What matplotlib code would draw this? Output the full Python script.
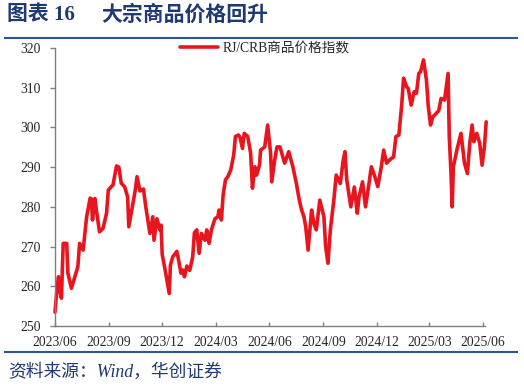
import matplotlib
matplotlib.use('Agg')
import matplotlib.pyplot as plt
import matplotlib.dates as mdates
import pandas as pd
from matplotlib.lines import Line2D
from matplotlib.font_manager import FontProperties

# ---------------- data ----------------
dates = [
    '2023-06-01', '2023-06-05', '2023-06-07', '2023-06-09', '2023-06-12', '2023-06-15',
    '2023-06-21', '2023-06-23', '2023-06-29', '2023-07-05', '2023-07-10', '2023-07-13',
    '2023-07-19', '2023-07-25', '2023-07-31', '2023-08-02', '2023-08-04', '2023-08-08',
    '2023-08-11', '2023-08-16', '2023-08-22', '2023-08-28', '2023-08-31', '2023-09-05',
    '2023-09-08', '2023-09-14', '2023-09-18', '2023-09-22', '2023-09-28', '2023-10-03',
    '2023-10-05', '2023-10-09', '2023-10-16', '2023-10-19', '2023-10-24', '2023-10-30',
    '2023-11-03', '2023-11-10', '2023-11-15', '2023-11-17', '2023-11-22', '2023-11-27',
    '2023-11-29', '2023-12-01', '2023-12-06', '2023-12-11', '2023-12-13', '2023-12-15',
    '2023-12-19', '2023-12-26', '2023-12-29', '2024-01-02', '2024-01-05', '2024-01-08',
    '2024-01-12', '2024-01-17', '2024-01-22', '2024-01-25', '2024-01-29', '2024-02-02',
    '2024-02-06', '2024-02-12', '2024-02-15', '2024-02-19', '2024-02-23', '2024-02-29',
    '2024-03-05', '2024-03-07', '2024-03-11', '2024-03-14', '2024-03-18', '2024-03-22',
    '2024-03-27', '2024-04-01', '2024-04-04', '2024-04-09', '2024-04-12', '2024-04-16',
    '2024-04-19', '2024-04-25', '2024-04-30', '2024-05-03', '2024-05-07', '2024-05-10',
    '2024-05-15', '2024-05-17', '2024-05-24', '2024-05-29', '2024-06-03', '2024-06-05',
    '2024-06-10', '2024-06-14', '2024-06-19', '2024-06-23', '2024-06-27', '2024-07-04',
    '2024-07-11', '2024-07-17', '2024-07-22', '2024-07-26', '2024-07-30', '2024-08-02',
    '2024-08-06', '2024-08-12', '2024-08-16', '2024-08-20', '2024-08-26', '2024-09-02',
    '2024-09-05', '2024-09-09', '2024-09-13', '2024-09-19', '2024-09-23', '2024-09-30',
    '2024-10-05', '2024-10-08', '2024-10-11', '2024-10-18', '2024-10-24', '2024-10-29',
    '2024-11-01', '2024-11-07', '2024-11-12', '2024-11-18', '2024-11-22', '2024-11-28',
    '2024-12-03', '2024-12-09', '2024-12-13', '2024-12-18', '2024-12-23', '2024-12-30',
    '2025-01-03', '2025-01-08', '2025-01-13', '2025-01-16', '2025-01-21', '2025-01-24',
    '2025-01-29', '2025-02-03', '2025-02-07', '2025-02-11', '2025-02-14', '2025-02-19',
    '2025-02-24', '2025-02-27', '2025-03-03', '2025-03-07', '2025-03-10', '2025-03-17',
    '2025-03-21', '2025-03-27', '2025-04-02', '2025-04-04', '2025-04-07', '2025-04-09',
    '2025-04-11', '2025-04-17', '2025-04-24', '2025-04-30', '2025-05-05', '2025-05-09',
    '2025-05-13', '2025-05-16', '2025-05-21', '2025-05-26', '2025-05-30', '2025-06-03',
    '2025-06-06',
]
values = [
    253.5, 260.3, 262.4, 259.0, 257.0, 270.8,
    270.8, 263.3, 259.5, 262.4, 264.9, 270.8,
    269.1, 277.5, 282.2, 282.0, 276.7, 282.1,
    278.8, 273.7, 274.6, 278.4, 284.2, 285.1,
    285.5, 290.3, 290.0, 286.0, 285.0, 282.5,
    275.0, 278.4, 284.2, 287.6, 284.0, 284.5,
    280.0, 273.3, 277.5, 271.6, 277.0, 274.2,
    275.4, 268.0, 264.1, 259.9, 258.2, 265.3,
    267.4, 268.8, 266.6, 263.3, 264.1, 262.4,
    265.1, 264.0, 267.4, 273.5, 274.2, 268.3,
    273.3, 271.6, 274.2, 270.8, 274.2, 277.0,
    277.5, 279.2, 276.7, 283.0, 286.8, 287.6,
    289.3, 293.0, 297.7, 298.1, 297.5, 294.7,
    298.5, 297.7, 293.5, 284.7, 290.1, 288.0,
    290.5, 294.3, 295.1, 300.6, 293.5, 286.3,
    291.8, 295.1, 295.1, 293.0, 291.0, 293.9,
    290.1, 285.9, 281.7, 279.2, 277.5, 275.0,
    269.1, 279.2, 275.8, 274.2, 281.7, 277.5,
    270.0, 265.8, 274.2, 281.7, 288.0, 285.9,
    291.8, 293.9, 286.8, 280.0, 285.0, 278.4,
    282.5, 286.3, 280.0, 285.9, 290.1, 287.6,
    285.1, 290.1, 294.3, 291.0, 291.8, 292.6,
    297.7, 298.1, 306.0, 312.4, 310.3, 309.8,
    305.6, 309.0, 308.6, 313.6, 314.0, 317.0,
    312.0, 305.6, 300.6, 302.7, 303.1, 304.2,
    307.3, 306.9, 313.6, 297.7, 288.4, 280.0,
    290.1, 294.3, 298.5, 291.0, 288.4, 296.0,
    300.6, 296.4, 298.5, 296.0, 290.5, 295.1,
    301.4,
]
series_name = 'RJ/CRB商品价格指数'
tick_dates = ['2023-06-01', '2023-09-01', '2023-12-01', '2024-03-01', '2024-06-01',
              '2024-09-01', '2024-12-01', '2025-03-01', '2025-06-01']
tick_labels = ['2023/06', '2023/09', '2023/12', '2024/03', '2024/06',
               '2024/09', '2024/12', '2025/03', '2025/06']
y_ticks = [250, 260, 270, 280, 290, 300, 310, 320]
title_num = '图表 16'
title_text = '大宗商品价格回升'
source_text = '资料来源：Wind，华创证券'

# ---------------- style ----------------
W, H = 524, 387
FAM = ['Liberation Serif', 'Noto Sans CJK SC']
NAVY = '#1F3A70'
RULE = '#2E5597'
RED = '#E8141E'
AXC = '#7F7F7F'
TXT = '#262626'

plt.rcParams['font.family'] = FAM

fig = plt.figure(figsize=(W / 100, H / 100), dpi=100)
ax = fig.add_axes([55 / W, 1 - 326 / H, (485 - 55) / W, (326 - 48) / H])

x = pd.to_datetime(dates)
line, = ax.plot(x, values, color=RED, lw=2.6, solid_joinstyle='round',
                solid_capstyle='round', clip_on=False, label=series_name)

ax.set_ylim(250, 320)
ax.set_yticks(y_ticks)
ax.set_xlim(pd.Timestamp('2023-06-01'), pd.Timestamp('2025-06-04'))
ax.set_xticks(pd.to_datetime(tick_dates))
ax.set_xticklabels(tick_labels)

for s in ['top', 'right']:
    ax.spines[s].set_visible(False)
for s in ['left', 'bottom']:
    ax.spines[s].set_color(AXC)
    ax.spines[s].set_linewidth(1.0)

ax.tick_params(axis='y', direction='out', length=3.6, width=1.0, color=AXC,
               labelsize=9.8, labelcolor=TXT, pad=6.5)
ax.tick_params(axis='x', direction='in', length=3, width=1.0, color=AXC,
               labelsize=9.8, labelcolor=TXT, pad=7)

leg = ax.legend(handles=[line], loc='center left',
                bbox_to_anchor=(180 / W, 1 - 48.5 / H), bbox_transform=fig.transFigure,
                frameon=False, borderpad=0, borderaxespad=0, handlelength=2.8,
                handletextpad=0.3, prop=FontProperties(family=FAM, size=9.8))
for t in leg.get_texts():
    t.set_color(TXT)

# title and rules
fig.text(7 / W, 1 - 15.5 / H, title_num, fontsize=15, fontweight='bold', color=NAVY,
         va='center', ha='left', family=FAM)
fig.text(101 / W, 1 - 15.5 / H, title_text, fontsize=15, fontweight='bold', color=NAVY,
         va='center', ha='left', family=FAM)
fig.add_artist(Line2D([5 / W, 517 / W], [1 - 37.7 / H] * 2, color=RULE, lw=1.5))
fig.add_artist(Line2D([5 / W, 517 / W], [1 - 351.7 / H] * 2, color=RULE, lw=1.5))
fig.text(8 / W, 1 - 372 / H, source_text, fontsize=12.8, color=NAVY, style='italic',
         va='center', ha='left', family=FAM)

fig.savefig('out.png', dpi=100)
